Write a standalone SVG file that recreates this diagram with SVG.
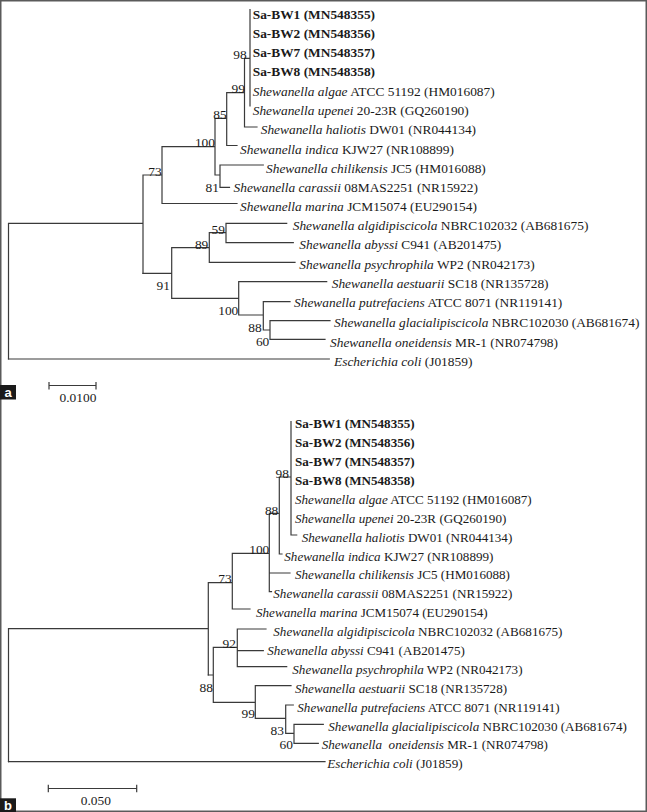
<svg xmlns="http://www.w3.org/2000/svg" width="647" height="812" viewBox="0 0 647 812">
<style>
  .br{fill:none;stroke:#3a3a3a;stroke-width:1.2;stroke-linecap:square}
  .t{font-family:"Liberation Serif","Times New Roman",serif;font-size:13.4px;fill:#1a1a1a}
  .t2{font-family:"Liberation Serif","Times New Roman",serif;font-size:13.1px;fill:#1a1a1a}
  .bs{font-family:"Liberation Serif","Times New Roman",serif;font-size:13.4px;fill:#1a1a1a;text-anchor:end}
  .b{font-weight:bold}
  .i{font-style:italic}
  .pl{font-family:"Liberation Sans",Arial,sans-serif;font-size:13px;font-weight:bold;fill:#ffffff;text-anchor:middle}
</style>
<rect x="0.75" y="0.75" width="645.5" height="810.5" fill="#ffffff" stroke="#5a5a5a" stroke-width="1.5"/>

<g id="connectors">
  <!-- panel a -->
  <path class="br" d="M8.5,223.3V359 M8.5,223.3H143 M143,175V273.3 M143,175H162 M162,146.7V203.5 M162,203.5H237 M162,146.7H215 M215,118.3V175 M215,175H220 M220,165V187.3 M220,165H263.3 M220,187.3H229.5 M215,118.3H226.7 M226.7,92.7V145.5 M226.7,145.5H237 M226.7,92.7H244.5 M244.5,58.3V127 M244.5,127H257 M244.5,58.3H250 M250,9.5V106"/>
  <path class="br" d="M143,273.3H171.7 M171.7,247.7V298.3 M171.7,247.7H209.3 M209.3,232.7V262.3 M209.3,262.3H295 M209.3,232.7H226 M226,223.3V242.7 M226,223.3H286.7 M226,242.7H293.3 M171.7,298.3H238.7 M238.7,281.7V315 M238.7,281.7H326.7 M238.7,315H263.3 M263.3,301.7V330 M263.3,301.7H290 M263.3,330H270 M270,320.7V339.3 M270,320.7H330 M270,339.3H325 M8.5,359H329.3"/>
  <!-- scale a -->
  <path class="br" d="M49,385.5H96 M49,382.5V389 M96,382.5V389"/>
  <!-- panel b -->
  <path class="br" d="M8.5,628.7V761.7 M8.5,628.7H208.3 M208.3,582.7V675 M208.3,582.7H232.3 M232.3,553.3V609 M232.3,609H250 M232.3,553.3H269.3 M269.3,513.3V591.7 M269.3,573H290 M269.3,591.7H271.5 M269.3,513.3H279.3 M279.3,477V554 M279.3,554H282 M279.3,477H291 M291,421.7V535 M291,535H296.7"/>
  <path class="br" d="M208.3,675H213.3 M213.3,647.3V702.3 M213.3,647.3H237.3 M237.3,629V666.7 M237.3,629H266 M237.3,650.7H263.3 M237.3,666.7H286.7 M213.3,702.3H255.3 M255.3,685.7V718.3 M255.3,685.7H291 M255.3,718.3H285.7 M285.7,705V733.3 M285.7,705H293.3 M285.7,733.3H294 M294,724.3V743.3 M294,724.3H323.3 M294,743.3H318.3 M8.5,761.7H325"/>
  <!-- scale b -->
  <path class="br" d="M48.3,788.5H136.7 M48.3,785.3V791.7 M136.7,785.3V791.7"/>
</g>

<!-- ===== Panel a taxa ===== -->
<g id="a-bw1"><text class="t b" x="252.7" y="18.5">Sa-BW1 (MN548355)</text></g>
<g id="a-bw2"><text class="t b" x="252.7" y="37.8">Sa-BW2 (MN548356)</text></g>
<g id="a-bw7"><text class="t b" x="252.7" y="57.1">Sa-BW7 (MN548357)</text></g>
<g id="a-bw8"><text class="t b" x="252.7" y="76.4">Sa-BW8 (MN548358)</text></g>
<g id="a-algae"><text class="t" x="252.7" y="95.7"><tspan class="i">Shewanella algae</tspan> ATCC 51192 (HM016087)</text></g>
<g id="a-upenei"><text class="t" x="252.7" y="115"><tspan class="i">Shewanella upenei</tspan> 20-23R (GQ260190)</text></g>
<g id="a-haliotis"><text class="t" x="260.7" y="134.3"><tspan class="i">Shewanella haliotis</tspan> DW01 (NR044134)</text></g>
<g id="a-indica"><text class="t" x="240" y="153.6"><tspan class="i">Shewanella indica</tspan> KJW27 (NR108899)</text></g>
<g id="a-chilikensis"><text class="t" x="266" y="172.9"><tspan class="i">Shewanella chilikensis</tspan> JC5 (HM016088)</text></g>
<g id="a-carassii"><text class="t" x="233.5" y="192.2"><tspan class="i">Shewanella carassii</tspan> 08MAS2251 (NR15922)</text></g>
<g id="a-marina"><text class="t" x="240" y="210.8"><tspan class="i">Shewanella marina</tspan> JCM15074 (EU290154)</text></g>
<g id="a-algidipiscicola"><text class="t" x="292.7" y="229.5"><tspan class="i">Shewanella algidipiscicola</tspan> NBRC102032 (AB681675)</text></g>
<g id="a-abyssi"><text class="t" x="299.3" y="249"><tspan class="i">Shewanella abyssi</tspan> C941 (AB201475)</text></g>
<g id="a-psychrophila"><text class="t" x="299.3" y="268.6"><tspan class="i">Shewanella psychrophila</tspan> WP2 (NR042173)</text></g>
<g id="a-aestuarii"><text class="t" x="331.7" y="287.8"><tspan class="i">Shewanella aestuarii</tspan> SC18 (NR135728)</text></g>
<g id="a-putrefaciens"><text class="t" x="294" y="307.2"><tspan class="i">Shewanella putrefaciens</tspan> ATCC 8071 (NR119141)</text></g>
<g id="a-glacialipiscicola"><text class="t" x="334" y="326.6"><tspan class="i">Shewanella glacialipiscicola</tspan> NBRC102030 (AB681674)</text></g>
<g id="a-oneidensis"><text class="t" x="330" y="346.5"><tspan class="i">Shewanella oneidensis</tspan> MR-1 (NR074798)</text></g>
<g id="a-ecoli"><text class="t" x="334" y="365.5"><tspan class="i">Escherichia coli</tspan> (J01859)</text></g>

<!-- Panel a bootstrap values -->
<g id="a-n98"><text class="bs" x="246.7" y="59">98</text></g>
<g id="a-n99"><text class="bs" x="245" y="93">99</text></g>
<g id="a-n85"><text class="bs" x="226.7" y="118.5">85</text></g>
<g id="a-n100a"><text class="bs" x="215" y="147">100</text></g>
<g id="a-n73"><text class="bs" x="161.7" y="176">73</text></g>
<g id="a-n81"><text class="bs" x="219" y="191.5">81</text></g>
<g id="a-n59"><text class="bs" x="225" y="233.5">59</text></g>
<g id="a-n89"><text class="bs" x="208.3" y="248.5">89</text></g>
<g id="a-n91"><text class="bs" x="170" y="290">91</text></g>
<g id="a-n100b"><text class="bs" x="238.3" y="315">100</text></g>
<g id="a-n88"><text class="bs" x="261.7" y="331.7">88</text></g>
<g id="a-n60"><text class="bs" x="269.3" y="345.7">60</text></g>

<g id="a-scale"><text class="t" x="78" y="402.3" text-anchor="middle">0.0100</text></g>
<g id="a-label"><rect x="0" y="385" width="16" height="14.5" fill="#1a1a1a"/><text class="pl" x="8" y="397">a</text></g>

<!-- ===== Panel b taxa ===== -->
<g id="b-bw1"><text class="t2 b" x="295" y="428.3">Sa-BW1 (MN548355)</text></g>
<g id="b-bw2"><text class="t2 b" x="295" y="447.2">Sa-BW2 (MN548356)</text></g>
<g id="b-bw7"><text class="t2 b" x="295" y="466.1">Sa-BW7 (MN548357)</text></g>
<g id="b-bw8"><text class="t2 b" x="295" y="485">Sa-BW8 (MN548358)</text></g>
<g id="b-algae"><text class="t2" x="295" y="503.9"><tspan class="i">Shewanella algae</tspan> ATCC 51192 (HM016087)</text></g>
<g id="b-upenei"><text class="t2" x="295" y="522.8"><tspan class="i">Shewanella upenei</tspan> 20-23R (GQ260190)</text></g>
<g id="b-haliotis"><text class="t2" x="301.7" y="541.6"><tspan class="i">Shewanella haliotis</tspan> DW01 (NR044134)</text></g>
<g id="b-indica"><text class="t2" x="284.3" y="560.5"><tspan class="i">Shewanella indica</tspan> KJW27 (NR108899)</text></g>
<g id="b-chilikensis"><text class="t2" x="295" y="579.4"><tspan class="i">Shewanella chilikensis</tspan> JC5 (HM016088)</text></g>
<g id="b-carassii"><text class="t2" x="273.3" y="598.3"><tspan class="i">Shewanella carassii</tspan> 08MAS2251 (NR15922)</text></g>
<g id="b-marina"><text class="t2" x="256" y="617.2"><tspan class="i">Shewanella marina</tspan> JCM15074 (EU290154)</text></g>
<g id="b-algidipiscicola"><text class="t2" x="273.3" y="636.1"><tspan class="i">Shewanella algidipiscicola</tspan> NBRC102032 (AB681675)</text></g>
<g id="b-abyssi"><text class="t2" x="267.3" y="655"><tspan class="i">Shewanella abyssi</tspan> C941 (AB201475)</text></g>
<g id="b-psychrophila"><text class="t2" x="292.3" y="673.9"><tspan class="i">Shewanella psychrophila</tspan> WP2 (NR042173)</text></g>
<g id="b-aestuarii"><text class="t2" x="295" y="692.8"><tspan class="i">Shewanella aestuarii</tspan> SC18 (NR135728)</text></g>
<g id="b-putrefaciens"><text class="t2" x="297.3" y="711.6"><tspan class="i">Shewanella putrefaciens</tspan> ATCC 8071 (NR119141)</text></g>
<g id="b-glacialipiscicola"><text class="t2" x="328.3" y="730.5"><tspan class="i">Shewanella glacialipiscicola</tspan> NBRC102030 (AB681674)</text></g>
<g id="b-oneidensis"><text class="t2" x="321.7" y="749.4" xml:space="preserve"><tspan class="i">Shewanella  oneidensis</tspan> MR-1 (NR074798)</text></g>
<g id="b-ecoli"><text class="t2" x="327.3" y="768.3"><tspan class="i">Escherichia coli</tspan> (J01859)</text></g>

<!-- Panel b bootstrap values -->
<g id="b-n98"><text class="bs" x="289" y="477.5">98</text></g>
<g id="b-n88a"><text class="bs" x="278.3" y="515">88</text></g>
<g id="b-n100"><text class="bs" x="269.3" y="554">100</text></g>
<g id="b-n73"><text class="bs" x="231.7" y="582.7">73</text></g>
<g id="b-n92"><text class="bs" x="236" y="648">92</text></g>
<g id="b-n88b"><text class="bs" x="213" y="692">88</text></g>
<g id="b-n99"><text class="bs" x="255" y="718">99</text></g>
<g id="b-n83"><text class="bs" x="284" y="735">83</text></g>
<g id="b-n60"><text class="bs" x="293" y="749">60</text></g>

<g id="b-scale"><text class="t" x="95.8" y="805" text-anchor="middle">0.050</text></g>
<g id="b-label"><rect x="0" y="798.3" width="16" height="13.7" fill="#1a1a1a"/><text class="pl" x="8" y="810">b</text></g>
</svg>
